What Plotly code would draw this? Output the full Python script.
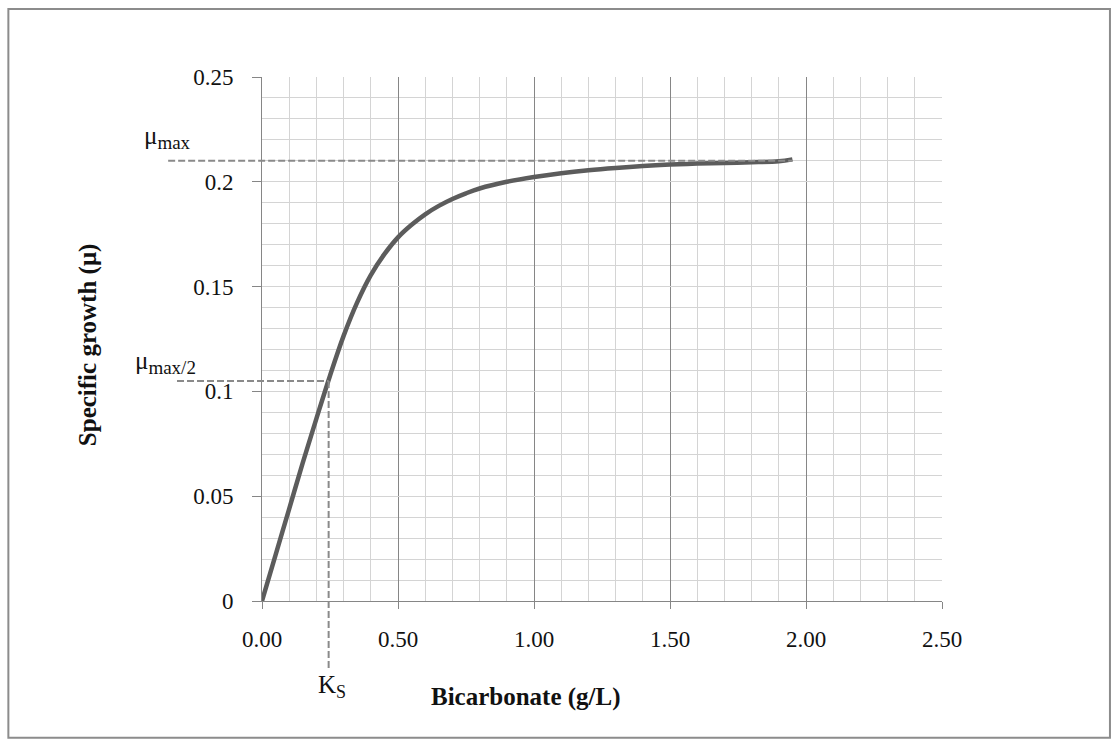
import plotly.graph_objects as go

# Bicarbonate concentration (g/L) and specific growth rate
bicarbonate = [0.00, 0.05, 0.10, 0.15, 0.20, 0.25, 0.30, 0.35, 0.40, 0.45,
               0.50, 0.55, 0.60, 0.65, 0.70, 0.75, 0.80, 0.90, 1.00, 1.10,
               1.20, 1.30, 1.40, 1.50, 1.60, 1.70, 1.80, 1.90, 1.95]
growth = [0.0, 0.022, 0.044, 0.066, 0.087, 0.1075, 0.1265, 0.1425, 0.1555, 0.1655,
          0.1735, 0.1795, 0.1845, 0.1885, 0.1918, 0.1945, 0.1968, 0.2000, 0.2023, 0.2041,
          0.2055, 0.2066, 0.2075, 0.2082, 0.2087, 0.2090, 0.2093, 0.2098, 0.2107]

# Kinetic parameters marked on the chart
mu_max = 0.21
mu_half = 0.105
ks = 0.245

x_tickvals = [0.0, 0.5, 1.0, 1.5, 2.0, 2.5]
x_ticktext = ["0.00", "0.50", "1.00", "1.50", "2.00", "2.50"]
y_tickvals = [0, 0.05, 0.1, 0.15, 0.2, 0.25]
y_ticktext = ["0", "0.05", "0.1", "0.15", "0.2", "0.25"]

SERIF = "Liberation Serif, Times New Roman, serif"
AXIS_GRAY = "#868686"
GRID_LIGHT = "#d4d4d4"
DASH_GRAY = "#8a8a8a"

fig = go.Figure()

fig.add_trace(go.Scatter(
    x=bicarbonate, y=growth, mode="lines",
    line=dict(color="#5c5c5c", width=4.5, shape="spline", smoothing=1.0),
    hoverinfo="skip", showlegend=False,
))

dash = dict(color=DASH_GRAY, width=2, dash="7px,3px")
last_x = bicarbonate[-1]
# mu_max reference line (starts left of the axis, ends at the last point)
fig.add_shape(type="line", xref="paper", yref="y",
              x0=-0.138, x1=last_x / x_tickvals[-1], y0=mu_max, y1=mu_max, line=dash)
# mu_max/2 reference line up to Ks
fig.add_shape(type="line", xref="paper", yref="y",
              x0=-0.125, x1=ks / x_tickvals[-1], y0=mu_half, y1=mu_half, line=dash)
# Ks reference line, down past the axis
fig.add_shape(type="line", xref="x", yref="paper",
              x0=ks, x1=ks, y0=mu_half / y_tickvals[-1], y1=-0.128, line=dash)

# Outer frame
fig.add_shape(type="rect", xref="paper", yref="paper",
              x0=-0.373, x1=1.247, y0=-0.261, y1=1.130,
              line=dict(color="#8c8c8c", width=2), fillcolor="rgba(0,0,0,0)")

label_font = dict(family=SERIF, size=25, color="#111111")
fig.add_annotation(text='μ<sub><span style="font-size:19px">max</span></sub>',
                   xref="paper", yref="paper",
                   x=-0.177, y=0.885, xanchor="left", yanchor="middle",
                   showarrow=False, font=label_font)
fig.add_annotation(text='μ<sub><span style="font-size:19px">max/2</span></sub>',
                   xref="paper", yref="paper",
                   x=-0.189, y=0.455, xanchor="left", yanchor="middle",
                   showarrow=False, font=label_font)
fig.add_annotation(text='K<sub><span style="font-size:18px">S</span></sub>',
                   xref="paper", yref="paper",
                   x=0.103, y=-0.163, xanchor="center", yanchor="middle",
                   showarrow=False, font=label_font)

title_font = dict(family=SERIF, size=25, color="#111111")
fig.add_annotation(text="<b>Bicarbonate (g/L)</b>", xref="paper", yref="paper",
                   x=0.388, y=-0.183, xanchor="center", yanchor="middle",
                   showarrow=False, font=title_font)
fig.add_annotation(text="<b>Specific growth (μ)</b>", xref="paper", yref="paper",
                   x=-0.256, y=0.49, xanchor="center", yanchor="middle",
                   textangle=-90, showarrow=False, font=title_font)

tick_font = dict(family=SERIF, size=23, color="#111111")
fig.update_xaxes(
    range=[0, 2.5], tickvals=x_tickvals, ticktext=x_ticktext,
    showgrid=True, gridcolor=AXIS_GRAY, gridwidth=1,
    minor=dict(dtick=0.1, tick0=0, showgrid=True, gridcolor=GRID_LIGHT, gridwidth=1),
    showline=True, linecolor=AXIS_GRAY, linewidth=1,
    ticks="outside", ticklen=7, tickcolor=AXIS_GRAY,
    tickfont=tick_font, ticklabelstandoff=10, zeroline=False,
)
fig.update_yaxes(
    range=[0, 0.25], tickvals=y_tickvals, ticktext=y_ticktext,
    showgrid=True, gridcolor=GRID_LIGHT, gridwidth=1,
    minor=dict(dtick=0.01, tick0=0, showgrid=True, gridcolor=GRID_LIGHT, gridwidth=1),
    showline=True, linecolor=AXIS_GRAY, linewidth=1,
    ticks="outside", ticklen=9, tickcolor=AXIS_GRAY,
    tickfont=tick_font, ticklabelstandoff=14, zeroline=False,
)

fig.update_layout(
    width=1117, height=745, autosize=False,
    margin=dict(l=262, r=175, t=77, b=144),
    paper_bgcolor="white", plot_bgcolor="white",
    showlegend=False,
)

fig.write_html("out.html")
